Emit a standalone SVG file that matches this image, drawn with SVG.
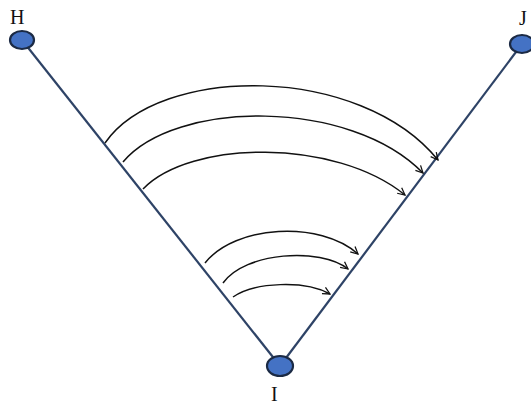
<svg xmlns="http://www.w3.org/2000/svg" width="531" height="405" viewBox="0 0 531 405">
<style>
.edge{stroke:#2E4366;stroke-width:2.2;fill:none}
.arc{stroke:#111;stroke-width:1.5;fill:none;marker-end:url(#ah)}
.node{fill:#4472C4;stroke:#1B2A44;stroke-width:2.2}
.lbl{font-family:"Liberation Serif",serif;font-size:20px;fill:#111}
</style>
<defs>
<marker id="ah" viewBox="0 0 10 10" refX="9" refY="5" markerWidth="9" markerHeight="9" markerUnits="userSpaceOnUse" orient="auto">
<path d="M1,1 L9,5 L1,9" fill="none" stroke="#111" stroke-width="1.4"/>
</marker>
</defs>
<g id="connectors">
<line class="edge" x1="22" y1="40" x2="280" y2="366"/>
<line class="edge" x1="522" y1="44" x2="280" y2="366"/>
<path class="arc" d="M105,143 C160,64 360,64 438,160"/>
<path class="arc" d="M123,162 C175,100 350,98 423,173"/>
<path class="arc" d="M143,189 C190,140 335,138 405,195"/>
<path class="arc" d="M205,263 C235,225 320,220 358,254"/>
<path class="arc" d="M223,283 C245,252 320,247 348,269"/>
<path class="arc" d="M233,297 C255,282 305,280 330,294"/>
</g>
<g id="H"><ellipse class="node" cx="22" cy="40" rx="12" ry="9"/><text class="lbl" x="10" y="24">H</text></g>
<g id="J"><ellipse class="node" cx="522" cy="44" rx="12" ry="9"/><text class="lbl" x="519" y="25">J</text></g>
<g id="I"><ellipse class="node" cx="280" cy="366" rx="13" ry="10"/><text class="lbl" x="271" y="401">I</text></g>
</svg>
